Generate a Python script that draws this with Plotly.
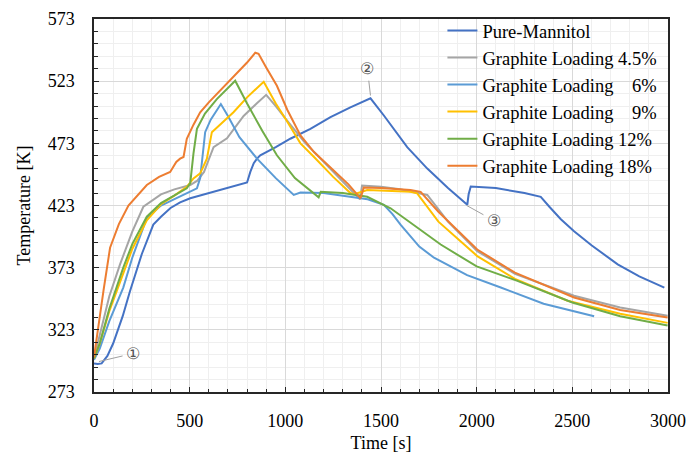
import plotly.graph_objects as go

# ---- data ----
pm_t = [0, 20, 40, 70, 100, 150, 188, 250, 310, 350, 400, 450, 503, 600, 700, 782, 800, 817, 835, 852, 869, 950, 1026, 1131, 1236, 1340, 1445,
        1515, 1637, 1742, 1850, 1951, 1958, 1969, 2100, 2250, 2335, 2380, 2440, 2509, 2600, 2737, 2850, 2981]
pm_T = [296, 295.5, 296, 302, 312, 334, 354, 384, 407.6, 414, 421, 425.5, 428.8, 433, 437.5, 440.8, 441.5, 450, 457, 460.7, 463.4, 470, 476.7, 484.7, 494, 502, 509.2,
        495.4, 470, 452.7, 437, 423.6, 432, 438.2, 437, 433, 430, 422, 412, 402.3, 391, 375.7, 366, 357]

g45_t = [0, 30, 80, 136, 200, 258, 350, 420, 503, 540, 575, 600, 625, 695, 782, 850, 900, 950, 1000, 1100, 1250, 1384, 1390, 1401,
         1500, 1600, 1672, 1742, 1850, 2003, 2200, 2509, 2750, 2998]
g45_T = [300, 318, 350, 375.7, 402, 422, 432, 436, 439.5, 443, 450, 460, 470, 477, 495, 505, 512, 503, 493, 474, 450, 429, 428, 439,
         438, 436, 434, 431.5, 410, 386.3, 368, 350.4, 341, 334.4]

g6_t = [0, 30, 80, 153, 200, 276, 350, 468, 538, 555, 570, 581, 610, 663, 700, 760, 852, 950, 1044, 1079, 1200, 1340, 1430, 1515,
        1560, 1602, 1700, 1777, 1950, 2126, 2350, 2614]
g6_T = [299, 308, 330, 357, 381, 413, 423, 431.5, 436.8, 445, 470, 482, 492, 504.6, 495, 478, 460.7, 445, 431.5, 433.4, 433, 430, 428, 423.6,
        416, 407.6, 390, 381, 367, 357, 344, 333.9]

g9_t = [0, 30, 80, 153, 200, 276, 350, 420, 485, 520, 555, 590, 616, 729, 800, 887, 950, 1000, 1079, 1150, 1250, 1340, 1360, 1428,
        1550, 1654, 1689, 1800, 2003, 2200, 2475, 2750, 2998]
g9_T = [300, 312, 338, 368, 388, 411, 424, 431, 438, 444.8, 448.8, 460.7, 482, 498, 510, 522.5, 505, 493, 473, 462, 446, 433, 432, 435.5,
        435, 434, 432.8, 410, 382.3, 364, 346.4, 336, 328.6]

g12_t = [0, 30, 80, 153, 200, 276, 350, 420, 485, 503, 520, 538, 580, 642, 738, 800, 880, 956, 1050, 1174, 1185, 1300, 1428, 1550,
         1602, 1689, 1812, 2000, 2213, 2500, 2750, 2998]
g12_T = [300, 312, 340, 373, 392, 414, 425, 431, 436.8, 441, 465, 484.7, 497, 508.6, 523.3, 505, 483, 463.4, 445, 429.6, 434, 433, 430, 420.8,
         415, 405, 391.6, 374, 362.4, 345, 334, 326.5]

g18_t = [0, 14, 50, 84, 130, 180, 276, 340, 398, 430, 450, 468, 478, 485, 520, 555, 600, 650, 729, 800, 843, 860, 900, 956, 1010, 1079,
         1150, 1253, 1330, 1393, 1410, 1500, 1654, 1707, 1800, 2003, 2200, 2509, 2750, 2998]
g18_T = [301, 317, 355, 389, 408, 423, 439.5, 446, 450, 458, 460.7, 462, 470, 476.7, 488, 498, 506, 514, 527.3, 538, 545.9, 545, 534, 519.3, 500, 479.4,
         466, 451, 440, 428.8, 437.4, 437, 435.5, 434, 418, 387.6, 369, 349, 339, 333]

names = ["Pure-Mannitol", "Graphite Loading 4.5%", "Graphite Loading\u00a0\u00a0\u00a0 6%",
         "Graphite Loading\u00a0\u00a0\u00a0 9%", "Graphite Loading 12%", "Graphite Loading 18%"]
colors = ["#4472C4", "#A5A5A5", "#5B9BD5", "#FFC000", "#70AD47", "#ED7D31"]
series = [(pm_t, pm_T), (g45_t, g45_T), (g6_t, g6_T), (g9_t, g9_T), (g12_t, g12_T), (g18_t, g18_T)]

x_ticks = [0, 500, 1000, 1500, 2000, 2500, 3000]
y_ticks = [273, 323, 373, 423, 473, 523, 573]

FONT = "Liberation Serif"

fig = go.Figure()
for (t, T), n, c in zip(series, names, colors):
    fig.add_trace(go.Scatter(x=t, y=T, mode="lines", name=n, line=dict(color=c, width=2)))

ann_font = dict(family="Liberation Serif", size=16, color="#555555")
markers = [("①", 26, 297.5, 204, 304), ("②", 1445, 511.5, 1429, 533), ("③", 1948, 423, 2089, 411)]
for txt, x, y, ax, ay in markers:
    fig.add_annotation(x=x, y=y, ax=ax, ay=ay, axref="x", ayref="y", text=txt, showarrow=True,
                       arrowhead=0, arrowwidth=1, arrowcolor="#A0A0A0", font=ann_font, standoff=0, startstandoff=2)

fig.update_layout(
    width=693, height=454,
    margin=dict(l=94, r=25, t=16, b=62),
    paper_bgcolor="white", plot_bgcolor="white",
    font=dict(family=FONT, size=16, color="black"),
    showlegend=True,
    legend=dict(x=0.607, y=1.019, xanchor="left", yanchor="top", bgcolor="rgba(0,0,0,0)",
                font=dict(family=FONT, size=18.5, color="black"), itemwidth=30, tracegroupgap=0),
)
fig.update_xaxes(range=[0, 3000], tickvals=x_ticks, ticktext=[str(v) for v in x_ticks], automargin=False,
                 showline=True, linecolor="#262626", linewidth=1.5, mirror=True,
                 ticks="inside", ticklen=5, tickcolor="#262626",
                 showgrid=True, gridcolor="#D9D9D9", gridwidth=1, zeroline=False,
                 minor=dict(dtick=100, showgrid=True, gridcolor="#EFEFEF", ticks="inside", ticklen=3, tickcolor="#262626"),
                 title=dict(text="Time [s]", font=dict(family=FONT, size=18), standoff=6),
                 tickfont=dict(family=FONT, size=18), ticklabelstandoff=12)
fig.update_yaxes(range=[273, 573], tickvals=y_ticks, ticktext=[str(v) for v in y_ticks], automargin=False,
                 showline=True, linecolor="#262626", linewidth=1.5, mirror=True,
                 ticks="inside", ticklen=5, tickcolor="#262626",
                 showgrid=True, gridcolor="#D9D9D9", gridwidth=1, zeroline=False,
                 minor=dict(tick0=273, dtick=10, showgrid=True, gridcolor="#EFEFEF", ticks="inside", ticklen=4, tickcolor="#262626"),
                 title=dict(text="Temperature [K]", font=dict(family=FONT, size=18), standoff=12),
                 tickfont=dict(family=FONT, size=18), ticklabelstandoff=14)

fig.write_html("out.html")
